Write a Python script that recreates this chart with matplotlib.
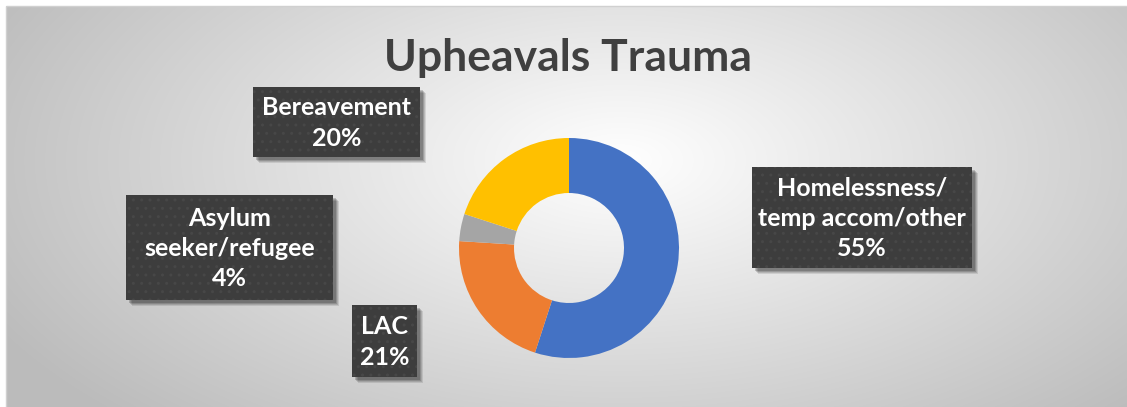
import numpy as np
import matplotlib.pyplot as plt
from matplotlib.patches import Rectangle

# data
categories = ["Homelessness/\ntemp accom/other", "LAC", "Asylum\nseeker/refugee", "Bereavement"]
values = [55, 21, 4, 20]
colors = ["#4472C4", "#ED7D31", "#A5A5A5", "#FFC000"]

W, H = 1127, 407
fig = plt.figure(figsize=(W / 100, H / 100), dpi=100)
fig.patch.set_facecolor("white")

# background in pixel coords
bg = fig.add_axes([0, 0, 1, 1])
bg.set_xlim(0, W)
bg.set_ylim(H, 0)
bg.axis("off")

yy, xx = np.mgrid[0:H, 0:W]
d = np.sqrt(((xx - 620) / 640.0) ** 2 + ((yy - 160) / 330.0) ** 2)
g = 1.0 - 0.24 * np.clip(d, 0, 1.1)
img = np.dstack([g, g, g])
img[:6, :, :] = 1.0
img[:, :6, :] = 1.0
bg.imshow(img, extent=(0, W, H, 0), aspect="auto", zorder=0)
bg.add_patch(Rectangle((5.5, 5.5), W, H, fill=False, edgecolor="#d0d0d0", lw=1, zorder=1))

bg.text(568, 58, "Upheavals Trauma", ha="center", va="center", fontsize=32,
        fontweight="bold", color="#404040", family="Lato", zorder=2)

# label boxes (x0, y0, x1, y1) in pixels
boxes = {
    "Homelessness/\ntemp accom/other": (752, 167, 972, 268),
    "LAC": (352, 305, 417, 377),
    "Asylum\nseeker/refugee": (126, 195, 333, 300),
    "Bereavement": (253, 87, 420, 157),
}

for cat, val in zip(categories, values):
    x0, y0, x1, y1 = boxes[cat]
    for off, a in [(6, 0.10), (5, 0.12), (4, 0.15), (3, 0.18)]:
        bg.add_patch(Rectangle((x0 + off, y0 + off), x1 - x0, y1 - y0,
                               facecolor="black", alpha=a, lw=0, zorder=3))
    bg.add_patch(Rectangle((x0, y0), x1 - x0, y1 - y0, facecolor="#3d3d3d",
                           edgecolor="#474747", hatch="..", lw=0, zorder=4))
    bg.text((x0 + x1) / 2, (y0 + y1) / 2 + 1, f"{cat}\n{val}%", ha="center", va="center",
            fontsize=18, fontweight="bold", color="white", family="Lato",
            linespacing=1.38, zorder=5)

# donut
cx, cy, r = 569, 248, 110
ax = fig.add_axes([(cx - r) / W, (H - cy - r) / H, 2 * r / W, 2 * r / H])
ax.pie(values, colors=colors, startangle=90, counterclock=False,
       wedgeprops=dict(width=0.5, linewidth=0))
ax.set_xlim(-1, 1)
ax.set_ylim(-1, 1)
ax.axis("off")

fig.savefig("out.png", dpi=100)
